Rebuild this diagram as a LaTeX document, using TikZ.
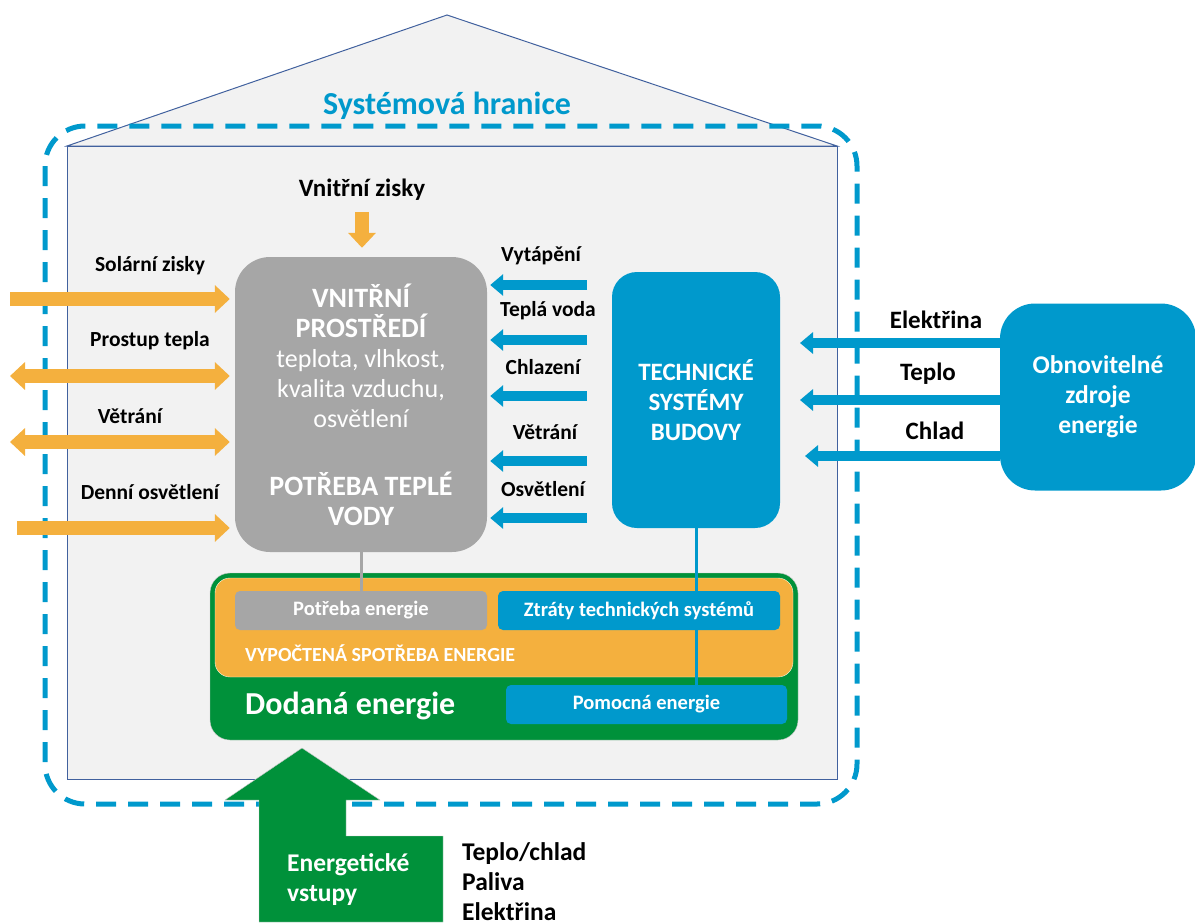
\documentclass[tikz,border=0pt]{standalone}
\usepackage{fontspec}
\setmainfont{Carlito}
\usetikzlibrary{arrows.meta,positioning,calc}

\definecolor{hbBlue}{HTML}{0099CC}
\definecolor{hbOrange}{HTML}{F4B03E}
\definecolor{hbGreen}{HTML}{00913A}
\definecolor{hbGrey}{HTML}{A6A6A6}
\definecolor{hbWall}{HTML}{F2F2F2}
\definecolor{hbLine}{HTML}{41619E}

\begin{document}
\begin{tikzpicture}[
  x=1pt, y=-1pt,
  lbl/.style={font=\fontsize{21.5}{24}\selectfont\bfseries, inner sep=0pt},
  rlbl/.style={font=\fontsize{25}{28}\selectfont\bfseries, inner sep=0pt},
  biglbl/.style={font=\fontsize{25.5}{30}\selectfont\bfseries, inner sep=0pt, align=left, anchor=west},
  wall/.style={draw=hbLine, fill=hbWall, line width=1pt},
  boundary/.style={draw=hbBlue, line width=5pt, dash pattern=on 20pt off 12pt, rounded corners=40pt},
  envbox/.style={fill=hbGrey, rounded corners=35pt, minimum width=252pt, minimum height=295pt, align=center, text=white, font=\fontsize{26}{30}\selectfont},
  tsbox/.style={fill=hbBlue, rounded corners=25pt, align=center, text=white, font=\fontsize{25}{30}\selectfont\bfseries},
  smallbox/.style={rounded corners=5pt, minimum height=39pt, text=white, font=\fontsize{20.5}{22}\selectfont\bfseries},
  oarrow/.style={draw=hbOrange, line width=14pt, -{Triangle[length=15pt,width=27pt]}},
  odarrow/.style={draw=hbOrange, line width=14pt, {Triangle[length=15pt,width=27pt]}-{Triangle[length=15pt,width=27pt]}},
  barrow/.style={draw=hbBlue, line width=10pt, -{Triangle[length=13pt,width=21pt]}},
  link/.style={line width=3pt}
]
\useasboundingbox (0,0) rectangle (1195,922);

% house and system boundary
\draw[wall] (67,146) -- (447,15) -- (837,146) -- cycle;
\draw[wall] (67,146) rectangle (837,779);
\draw[boundary] (45,126) rectangle (857,804);
\node[font=\fontsize{32}{36}\selectfont\bfseries, text=hbBlue] (hranice) at (447,106) {Systémová hranice};

% indoor environment
\node[envbox] (vp) at (361,404.5) {{\bfseries\fontsize{28}{30}\selectfont VNITŘNÍ}\\{\bfseries\fontsize{28}{30}\selectfont PROSTŘEDÍ}\\teplota, vlhkost,\\kvalita vzduchu,\\osvětlení\\[38pt]{\bfseries\fontsize{28}{30}\selectfont POTŘEBA TEPLÉ}\\{\bfseries\fontsize{28}{30}\selectfont VODY}};
\node[rlbl] (vz) at (362,190) {Vnitřní zisky};
\draw[oarrow, shorten <=11pt, shorten >=9pt] (vz.south) -- (vz.south |- vp.north);

% gains and losses through the envelope
\coordinate (c1) at (10,299);
\coordinate (c2) at (10,376);
\coordinate (c3) at (10,442);
\coordinate (c4) at (17,528);
\draw[oarrow, shorten >=5pt] (c1) -- (c1 -| vp.west);
\draw[odarrow, shorten >=5pt] (c2) -- (c2 -| vp.west);
\draw[odarrow, shorten >=5pt] (c3) -- (c3 -| vp.west);
\draw[oarrow, shorten >=5pt] (c4) -- (c4 -| vp.west);
\node[lbl] (l1) at (150,266) {Solární zisky};
\node[lbl] (l2) at (150,341) {Prostup tepla};
\node[lbl] (l3) at (130,416) {Větrání};
\node[lbl] (l4) at (150,492) {Denní osvětlení};

% technical building systems
\node[tsbox, minimum width=168pt, minimum height=256pt] (tsb) at (696,400) {TECHNICKÉ\\SYSTÉMY\\BUDOVY};
\foreach \yy/\name/\txt/\tx in {285/t1/Vytápění/541, 340/t2/Teplá voda/548, 396/t3/Chlazení/543, 461/t4/Větrání/545, 518/t5/Osvětlení/543}{
  \coordinate (\name) at (587,\yy);
  \draw[barrow, shorten >=3pt] (\name) -- (\name -| vp.east);
  \node[lbl] (\name-lbl) at (\tx,\yy-29) {\txt};
}

% renewables
\node[tsbox, rounded corners=35pt, minimum width=196pt, minimum height=187pt, font=\fontsize{25.5}{30}\selectfont\bfseries] (oze) at (1098,397) {Obnovitelné\\zdroje\\energie};
\coordinate (r1) at (800,343);
\coordinate (r2) at (800,400);
\coordinate (r3) at (805,456);
\draw[barrow] (oze.west |- r1) -- (r1);
\draw[barrow] (oze.west |- r2) -- (r2);
\draw[barrow] (oze.west |- r3) -- (r3);
\node[rlbl] (e1) at (936,320) {Elektřina};
\node[rlbl] (e2) at (928,374) {Teplo};
\node[rlbl] (e3) at (935,431) {Chlad};

% energy balance
\node[draw=hbGrey!60, fill=hbGreen, rounded corners=20pt, minimum width=588pt, minimum height=167pt] (dod) at (504,656.5) {};
\node[draw=white!85!hbOrange, fill=hbOrange, rounded corners=15pt, minimum width=578pt, minimum height=99pt] (vyp) at (504,627.5) {};
\draw[link, draw=hbBlue] (tsb.south) -- (tsb.south |- 0,685);
\node[smallbox, fill=hbGrey, minimum width=252pt] (pe) at (361,610.5) {Potřeba energie};
\node[smallbox, fill=hbBlue, minimum width=282pt] (zts) at (639,610.5) {Ztráty technických systémů};
\node[smallbox, fill=hbBlue, minimum width=281pt] (pom) at (646.5,704.5) {Pomocná energie};
\draw[link, draw=hbGrey] (vp.south) -- (pe.north);
\node[anchor=west, inner sep=0pt, text=white, font=\fontsize{20}{22}\selectfont\bfseries] (vyptxt) at (245,653) {VYPOČTENÁ SPOTŘEBA ENERGIE};
\node[anchor=west, inner sep=0pt, text=white, font=\fontsize{32}{36}\selectfont\bfseries] (dodtxt) at (245,706) {Dodaná energie};

% energy input
\draw[draw=hbGrey!60, fill=hbGreen] (225,800) -- (302,748) -- (380,800) -- (346,800) -- (346,836) -- (443,836) -- (443,922) -- (259,922) -- (259,800) -- cycle;
\node[biglbl, text=white] (vstupy) at (287,880) {Energetické\\vstupy};
\node[biglbl] (nosice) at (462,882) {Teplo/chlad\\Paliva\\Elektřina};
\end{tikzpicture}
\end{document}
